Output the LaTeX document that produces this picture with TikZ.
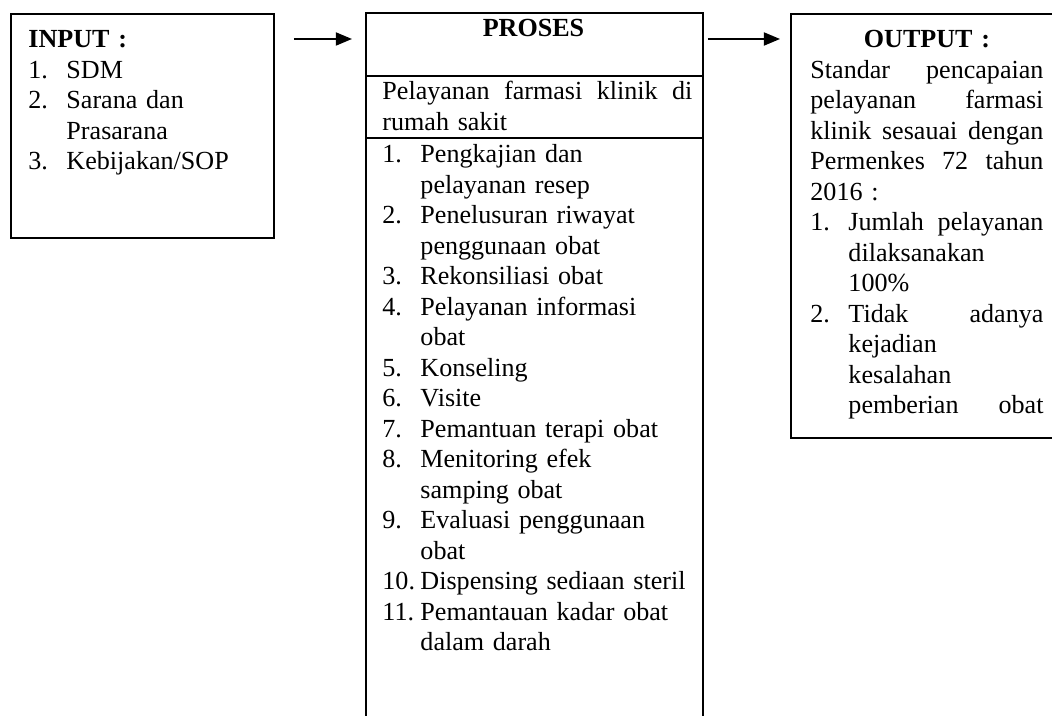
\documentclass[tikz,border=0pt]{standalone}
\usepackage{fontspec}
\setmainfont{Liberation Serif}
\usetikzlibrary{arrows.meta}
\newcommand{\numbox}[1]{\makebox[17.5pt][l]{#1}}
\newcommand{\jfull}[1]{\leavevmode\hbox to\linewidth{#1}}
\newcommand{\jhang}[1]{\hbox to\dimexpr\linewidth-17.5pt\relax{#1}}
\begin{document}
\begin{tikzpicture}[x=0.46pt,y=-0.46pt,
  box/.style={draw,line width=0.85pt,rectangle,inner sep=0pt,anchor=north west},
  txt/.style={inner sep=0pt,anchor=base west,align=left,font=\fontsize{12pt}{14.03pt}\selectfont},
  arr/.style={line width=0.8pt,-{Triangle[length=7.4pt,width=6pt]}}]
\useasboundingbox (0,0) rectangle (1052,716);
\clip (0,0) rectangle (1052,716);
% boxes
\node[box,minimum width=120.98pt,minimum height=103.04pt] (inbox) at (10,13) {};
\node[box,minimum width=155.02pt,minimum height=28.98pt] (prochead) at (365,12) {};
\node[box,minimum width=155.02pt,minimum height=28.52pt] (procsub) at (365,75) {};
\node[box,minimum width=155.02pt,minimum height=286.58pt] (proclist) at (365,137) {};
\node[box,minimum width=126.5pt,minimum height=195.04pt] (outbox) at (790,13) {};
% texts
\node[txt,text width=112pt] (intext) at (28,48) {%
\textbf{INPUT :}\\
\numbox{1.}SDM\\
\numbox{2.}Sarana dan\\
\hspace*{17.5pt}Prasarana\\
\numbox{3.}Kebijakan/SOP};
\node[inner sep=0pt,anchor=base,font=\fontsize{12pt}{14.03pt}\selectfont\bfseries] (proctitle) at (533.5,37) {PROSES};
\node[txt,text width=142.6pt] (subtext) at (382,100) {%
\jfull{Pelayanan\hfill farmasi\hfill klinik\hfill di}\\
rumah sakit};
\node[txt,text width=142.6pt] (listtext) at (382,163) {%
\numbox{1.}Pengkajian dan\\
\hspace*{17.5pt}pelayanan resep\\
\numbox{2.}Penelusuran riwayat\\
\hspace*{17.5pt}penggunaan obat\\
\numbox{3.}Rekonsiliasi obat\\
\numbox{4.}Pelayanan informasi\\
\hspace*{17.5pt}obat\\
\numbox{5.}Konseling\\
\numbox{6.}Visite\\
\numbox{7.}Pemantuan terapi obat\\
\numbox{8.}Menitoring efek\\
\hspace*{17.5pt}samping obat\\
\numbox{9.}Evaluasi penggunaan\\
\hspace*{17.5pt}obat\\
\numbox{10.}Dispensing sediaan steril\\
\numbox{11.}Pemantauan kadar obat\\
\hspace*{17.5pt}dalam darah};
\node[txt,text width=107.2pt] (outtext) at (810,48) {%
\makebox[\linewidth][c]{\textbf{OUTPUT :}}\\
\jfull{Standar\hfill pencapaian}\\
\jfull{pelayanan\hfill farmasi}\\
\jfull{klinik\hfill sesauai\hfill dengan}\\
\jfull{Permenkes\hfill 72\hfill tahun}\\
2016 :\\
\numbox{1.}\jhang{Jumlah\hfill pelayanan}\\
\hspace*{17.5pt}dilaksanakan\\
\hspace*{17.5pt}100\%\\
\numbox{2.}\jhang{Tidak\hfill adanya}\\
\hspace*{17.5pt}kejadian\\
\hspace*{17.5pt}kesalahan\\
\hspace*{17.5pt}\jhang{pemberian\hfill obat}};
% connectors
\coordinate (arrowrow) at (0,39);
\draw[arr,shorten <=8.7pt,shorten >=6pt] (inbox.east |- arrowrow) -- (prochead.west |- arrowrow);
\draw[arr,shorten <=1.8pt,shorten >=4.6pt] (prochead.east |- arrowrow) -- (outbox.west |- arrowrow);
\end{tikzpicture}
\end{document}
